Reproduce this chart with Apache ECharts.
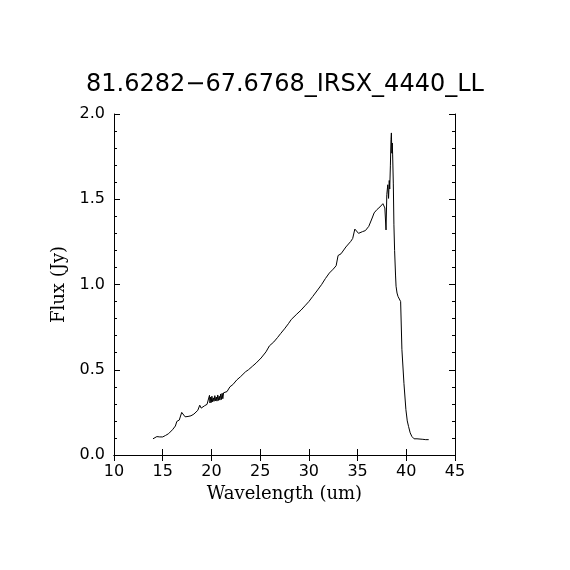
<!DOCTYPE html>
<html>
<head>
<meta charset="utf-8">
<script src="https://cdn.jsdelivr.net/npm/echarts@6/dist/echarts.min.js"></script>
<style>
    html, body { margin: 0; padding: 0; background: #fff; }
    #chart { width: 570px; height: 570px; }
</style>
</head>
<body>
<div id="chart"></div>
<script>
    // spectrum
    let wavelength = [14.0, 14.2, 14.4, 14.7, 15.0, 15.3, 15.6, 16.0, 16.3, 16.45, 16.7, 16.85, 16.95, 17.1, 17.3, 17.6, 17.9, 18.2, 18.6, 18.8, 18.95, 19.3, 19.55, 19.75,
        19.8, 19.85, 19.92, 19.98, 20.05, 20.12, 20.2, 20.27, 20.35, 20.42, 20.5, 20.57, 20.65, 20.72, 20.8, 20.87, 20.95, 21.02, 21.1, 21.17, 21.25, 21.4, 21.6, 21.9, 22.2, 22.6, 23.0, 23.5, 23.8,
        24.2, 24.6, 25.1, 25.6, 25.95, 26.4, 26.8, 27.1, 27.5, 27.9, 28.2, 28.4, 28.7, 29.2, 29.6, 30.0, 30.4, 30.9, 31.3, 31.7, 32.1, 32.5, 32.8, 33.0, 33.3, 33.8,
        34.3, 34.5, 34.72, 34.85, 35.1, 35.5, 35.8, 36.15, 36.5, 36.7, 37.0, 37.3, 37.6, 37.8, 37.92, 38.0, 38.1, 38.18, 38.25, 38.3, 38.37, 38.43, 38.47, 38.52,
        38.56, 38.6, 38.67, 38.73, 38.8, 38.9, 38.95, 39.05, 39.15, 39.28, 39.42, 39.55, 39.76, 39.96, 40.1, 40.23, 40.4, 40.57, 40.8, 40.95, 41.1, 41.3, 41.7, 42.0, 42.3]
    let flux = [0.095, 0.105, 0.108, 0.106, 0.106, 0.115, 0.125, 0.148, 0.170, 0.197, 0.205, 0.215, 0.250, 0.245, 0.224, 0.226, 0.230, 0.240, 0.262, 0.292, 0.275, 0.289, 0.297, 0.305,
        0.350, 0.305, 0.340, 0.308, 0.345, 0.312, 0.335, 0.315, 0.348, 0.318, 0.340, 0.316, 0.352, 0.320, 0.345, 0.322, 0.358, 0.325, 0.362, 0.330, 0.365, 0.360, 0.372, 0.400, 0.413, 0.440, 0.460, 0.488, 0.500,
        0.520, 0.540, 0.569, 0.605, 0.640, 0.663, 0.690, 0.712, 0.740, 0.770, 0.795, 0.797, 0.823, 0.850, 0.875, 0.900, 0.930, 0.968, 0.999, 1.035, 1.067, 1.090, 1.110, 1.170, 1.180, 1.220,
        1.253, 1.270, 1.325, 1.320, 1.300, 1.310, 1.316, 1.341, 1.390, 1.420, 1.440, 1.455, 1.474, 1.449, 1.320, 1.527, 1.585, 1.505, 1.610, 1.560, 1.700, 1.850, 1.889, 1.770,
        1.830, 1.760, 1.590, 1.350, 1.200, 1.050, 0.990, 0.950, 0.930, 0.940, 0.900, 0.620, 0.420, 0.266, 0.200, 0.168, 0.130, 0.109, 0.095, 0.090, 0.095, 0.094, 0.092, 0.090, 0.090]

    let xTicks = [10, 15, 20, 25, 30, 35, 40, 45]
    let yTicks = [0.0, 0.5, 1.0, 1.5, 2.0]

    let points = []
    for (let i = 0; i < wavelength.length; i++) {
        points.push([wavelength[i], flux[i]])
    }

    let tickFont = { fontFamily: 'DejaVu Sans', fontSize: 16, color: '#000' }
    let nameFont = { fontFamily: 'DejaVu Serif', fontSize: 18, color: '#000' }
    let lineBlack = { show: true, lineStyle: { color: '#000', width: 1 } }
    let majorTick = { inside: true, length: 6, lineStyle: { color: '#000' } }
    let minorTick = { show: true, splitNumber: 5, length: 3, lineStyle: { color: '#000' } }

    let option = {
        animation: false,
        backgroundColor: '#fff',
        title: {
            text: '81.6282\u221267.6768_IRSX_4440_LL',
            left: 'center',
            top: 68,
            textStyle: { fontFamily: 'DejaVu Sans', fontSize: 24, fontWeight: 'normal', color: '#000' }
        },
        grid: { left: 114, right: 115, top: 114, bottom: 115, containLabel: false },
        xAxis: [{
            type: 'value',
            min: xTicks[0],
            max: xTicks[xTicks.length - 1],
            interval: 5,
            name: 'Wavelength (um)',
            nameLocation: 'middle',
            nameGap: 28,
            nameTextStyle: nameFont,
            axisLine: lineBlack,
            axisTick: majorTick,
            axisLabel: Object.assign({ margin: 9 }, tickFont),
            splitLine: { show: false }
        }, {
            type: 'value',
            position: 'top',
            min: xTicks[0],
            max: xTicks[xTicks.length - 1],
            interval: 5,
            axisLine: lineBlack,
            axisTick: majorTick,
            axisLabel: { show: false },
            splitLine: { show: false }
        }],
        yAxis: [{
            type: 'value',
            min: yTicks[0],
            max: yTicks[yTicks.length - 1],
            interval: 0.5,
            name: 'Flux (Jy)',
            nameLocation: 'middle',
            nameGap: 42,
            nameTextStyle: nameFont,
            axisLine: lineBlack,
            axisTick: majorTick,
            minorTick: minorTick,
            axisLabel: Object.assign({ margin: 9, formatter: function (v) { return v.toFixed(1) } }, tickFont),
            splitLine: { show: false }
        }, {
            type: 'value',
            position: 'right',
            min: yTicks[0],
            max: yTicks[yTicks.length - 1],
            interval: 0.5,
            axisLine: lineBlack,
            axisTick: majorTick,
            minorTick: minorTick,
            axisLabel: { show: false },
            splitLine: { show: false }
        }],
        series: [{
            type: 'line',
            data: points,
            showSymbol: false,
            symbol: 'none',
            lineStyle: { color: '#000', width: 1 },
            xAxisIndex: 0,
            yAxisIndex: 0
        }]
    }

    let myChart = echarts.init(document.getElementById('chart'))
    myChart.setOption(option)
</script>
</body>
</html>
